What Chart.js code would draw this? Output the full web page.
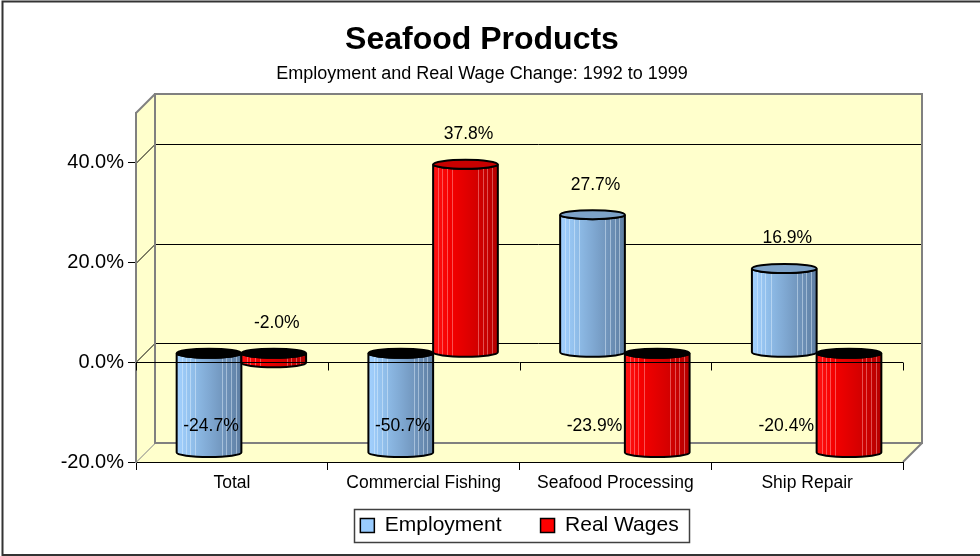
<!DOCTYPE html>
<html>
<head>
<meta charset="utf-8">
<title>Seafood Products</title>
<script src="https://cdn.jsdelivr.net/npm/chart.js@4.4.1/dist/chart.umd.min.js"></script>
<style>
  html, body { margin: 0; padding: 0; background: #fff; }
  #wrap { width: 980px; height: 556px; position: relative; }
</style>
</head>
<body>
<div id="wrap"><canvas id="seafoodChart"></canvas></div>
<script>
'use strict';

const categories = ['Total', 'Commercial Fishing', 'Seafood Processing', 'Ship Repair'];
const employment = [-24.7, -50.7, 27.7, 16.9];
const realWages = [-2.0, 37.8, -23.9, -20.4];
const yTicks = [-20, 0, 20, 40];
const Y_MIN = -20;
const Y_MAX = 50;

const FONT = "'Liberation Sans', Arial, sans-serif";
const DEPTH = 19;              // offset of the back wall (px right / px up)
const WALL_FILL = '#FFFFCC';
const WALL_EDGE = '#808080';

// side gradients + top colour of the cylinders, per series
const CYL_STYLE = [
  { body: ['#A3D1FF', '#90BEEA', '#80A9D3', '#6F93BA', '#5E7EA2'], top: '#7DA2C8', stripe: 'rgba(230,243,255,0.45)' },
  { body: ['#FF1414', '#F60000', '#E20000', '#CE0000', '#B40000'], top: '#C80000', stripe: 'rgba(255,180,180,0.45)' }
];
const STRIPES = [0.08, 0.14, 0.21, 0.29, 0.7, 0.77, 0.84, 0.91];

function polygon(ctx, pts) {
  ctx.beginPath();
  pts.forEach(([x, y], i) => (i ? ctx.lineTo(x, y) : ctx.moveTo(x, y)));
  ctx.closePath();
}

function line(ctx, x1, y1, x2, y2) {
  ctx.beginPath();
  ctx.moveTo(x1, y1);
  ctx.lineTo(x2, y2);
  ctx.stroke();
}

function bodyPath(ctx, cx, yUp, yLow, rx, ry) {
  ctx.beginPath();
  ctx.moveTo(cx - rx, yUp);
  ctx.lineTo(cx - rx, yLow);
  ctx.ellipse(cx, yLow, rx, ry, 0, Math.PI, 0, true);
  ctx.lineTo(cx + rx, yUp);
  ctx.ellipse(cx, yUp, rx, ry, 0, 0, Math.PI, false);
  ctx.closePath();
}

function drawCylinder(ctx, cx, yUp, yLow, w, style, capColor) {
  const rx = w / 2, ry = 4.5, x0 = cx - rx;
  const grad = ctx.createLinearGradient(x0, 0, cx + rx, 0);
  style.body.forEach((c, i) => grad.addColorStop(i / (style.body.length - 1), c));

  bodyPath(ctx, cx, yUp, yLow, rx, ry);
  ctx.fillStyle = grad;
  ctx.fill();

  // faint vertical banding on the side
  ctx.save();
  ctx.clip();
  ctx.strokeStyle = style.stripe;
  ctx.lineWidth = 1;
  STRIPES.forEach(f => {
    const sx = Math.round(x0 + f * w) + 0.5;
    line(ctx, sx, yUp - ry, sx, yLow + ry);
  });
  ctx.restore();

  bodyPath(ctx, cx, yUp, yLow, rx, ry);
  ctx.strokeStyle = '#000';
  ctx.lineWidth = 2;
  ctx.stroke();

  ctx.beginPath();
  ctx.ellipse(cx, yUp, rx, ry, 0, 0, Math.PI * 2);
  ctx.fillStyle = capColor;
  ctx.fill();
  ctx.stroke();
}

const wallsPlugin = {
  id: 'walls',
  beforeDraw(chart) {
    const { ctx, chartArea: a, scales: { y } } = chart;
    ctx.save();
    ctx.fillStyle = '#fff';
    ctx.fillRect(0, 0, chart.width, chart.height);

    ctx.fillStyle = WALL_FILL;
    polygon(ctx, [[a.left, a.top], [a.left + DEPTH, a.top - DEPTH], [a.left + DEPTH, a.bottom - DEPTH], [a.left, a.bottom]]);
    ctx.fill();
    ctx.fillRect(a.left + DEPTH, a.top - DEPTH, a.width, a.height);
    polygon(ctx, [[a.left, a.bottom], [a.left + DEPTH, a.bottom - DEPTH], [a.right + DEPTH, a.bottom - DEPTH], [a.right, a.bottom]]);
    ctx.fill();

    // gridlines run along the side wall and across the back wall
    ctx.lineWidth = 1;
    yTicks.forEach(v => {
      const py = Math.round(y.getPixelForValue(v)) + 0.5;
      ctx.strokeStyle = v === Y_MIN ? WALL_EDGE : '#000';
      ctx.beginPath();
      ctx.moveTo(a.left, py);
      ctx.lineTo(a.left + DEPTH, py - DEPTH);
      ctx.lineTo(a.right + DEPTH, py - DEPTH);
      ctx.stroke();
    });

    ctx.strokeStyle = WALL_EDGE;
    ctx.lineWidth = 2;
    line(ctx, a.left, a.top, a.left + DEPTH, a.top - DEPTH);
    ctx.strokeRect(a.left + DEPTH, a.top - DEPTH, a.width, a.height);
    line(ctx, a.right, a.bottom, a.right + DEPTH, a.bottom - DEPTH);
    ctx.restore();
  },
  beforeDatasetDraw() {
    return false; // bars are painted as cylinders below
  },
  afterDatasetsDraw(chart) {
    const { ctx, chartArea: a, scales: { x, y } } = chart;
    const sx = DEPTH / 2, sy = -DEPTH / 2; // bars stand half way into the box
    const clampY = p => Math.min(Math.max(p, a.top), a.bottom);
    ctx.save();

    categories.forEach((cat, i) => {
      chart.data.datasets.forEach((ds, di) => {
        const bar = chart.getDatasetMeta(di).data[i];
        const pv = clampY(bar.y) + sy, pb = clampY(bar.base) + sy;
        const up = Math.min(pv, pb), low = Math.max(pv, pb);
        const cap = ds.data[i] >= 0 ? CYL_STYLE[di].top : '#000';
        drawCylinder(ctx, bar.x + sx, up, low, bar.width, CYL_STYLE[di], cap);
      });
    });

    // category axis at 0% sits on the front plane
    const y0 = Math.round(y.getPixelForValue(0)) + 0.5;
    ctx.strokeStyle = '#000';
    ctx.lineWidth = 1;
    line(ctx, a.left, y0, a.right, y0);
    for (let i = 0; i <= categories.length; i++) {
      const tx = Math.round(x.getPixelForValue(i - 0.5)) + 0.5;
      line(ctx, tx, y0, tx, y0 + 8);
    }

    // value labels
    ctx.fillStyle = '#000';
    ctx.font = '17.5px ' + FONT;
    ctx.textAlign = 'center';
    ctx.textBaseline = 'middle';
    chart.data.datasets.forEach((ds, di) => {
      const meta = chart.getDatasetMeta(di);
      ds.data.forEach((v, i) => {
        const bar = meta.data[i];
        const pv = clampY(bar.y) + sy, pb = clampY(bar.base) + sy;
        const up = Math.min(pv, pb), low = Math.max(pv, pb);
        let lx, ly;
        if (v >= 0 || low - up < 30) {
          lx = bar.x + sx + 3;
          ly = up - 30;
        } else {
          lx = chart.getDatasetMeta(0).data[i].x + sx + 2;
          ly = low - 26;
        }
        ctx.fillText(v.toFixed(1) + '%', lx, ly);
      });
    });
    ctx.restore();
  },
  afterDraw(chart) {
    const { ctx } = chart;
    ctx.save();
    // frame round the legend
    const hb = chart.legend.legendHitBoxes;
    if (hb && hb.length) {
      const first = hb[0], last = hb[hb.length - 1];
      const cy = first.top + first.height / 2;
      ctx.strokeStyle = '#404040';
      ctx.lineWidth = 1.5;
      ctx.strokeRect(Math.round(first.left - 6) + 0.5, Math.round(cy - 16.5) + 0.5,
        Math.round(last.left + last.width + 11 - (first.left - 6)), 33);
    }
    // outer border
    ctx.strokeStyle = '#333';
    ctx.lineWidth = 2;
    ctx.strokeRect(2.5, 1.5, chart.width + 10, chart.height - 2.5);
    ctx.restore();
  }
};

new Chart(document.getElementById('seafoodChart'), {
  type: 'bar',
  data: {
    labels: categories,
    datasets: [
      {
        label: 'Employment',
        data: employment,
        backgroundColor: '#99CCFF',
        borderColor: '#000',
        borderWidth: 1.5
      },
      {
        label: 'Real Wages',
        data: realWages,
        backgroundColor: '#FF0000',
        borderColor: '#000',
        borderWidth: 1.5
      }
    ]
  },
  options: {
    responsive: true,
    maintainAspectRatio: false,
    devicePixelRatio: 1,
    animation: false,
    events: [],
    categoryPercentage: 0.675,
    barPercentage: 1,
    layout: { padding: { left: 61, right: 77, top: 0, bottom: 10 } },
    scales: {
      x: {
        ticks: { color: '#000', font: { family: FONT, size: 17.5 }, padding: 3, maxRotation: 0, autoSkip: false },
        grid: { drawOnChartArea: false, tickLength: 8, color: '#000', offset: true },
        border: { color: '#000', width: 1 }
      },
      y: {
        min: Y_MIN,
        max: Y_MAX,
        afterBuildTicks: scale => { scale.ticks = yTicks.map(value => ({ value })); },
        afterFit: scale => { scale.width = 75; },
        ticks: {
          color: '#000',
          font: { family: FONT, size: 20 },
          padding: 4,
          callback: v => v.toFixed(1) + '%'
        },
        grid: { drawOnChartArea: false, tickLength: 8, color: '#000' },
        border: { color: WALL_EDGE, width: 2 }
      }
    },
    plugins: {
      title: {
        display: true,
        text: 'Seafood Products',
        color: '#000',
        font: { family: FONT, size: 32, weight: 'bold' },
        padding: { top: 21, bottom: 4 }
      },
      subtitle: {
        display: true,
        text: 'Employment and Real Wage Change: 1992 to 1999',
        color: '#000',
        font: { family: FONT, size: 18 },
        padding: { top: 0, bottom: 28 }
      },
      legend: {
        position: 'bottom',
        fullSize: false,
        labels: {
          color: '#000',
          font: { family: FONT, size: 21 },
          boxWidth: 14,
          boxHeight: 14,
          padding: 18,
          // extra room after every entry but the last
          generateLabels(chart) {
            const items = Chart.defaults.plugins.legend.labels.generateLabels(chart);
            return items.map((it, i) => (i < items.length - 1 ? { ...it, text: it.text + '\u2003' } : it));
          }
        }
      },
      tooltip: { enabled: false }
    }
  },
  plugins: [wallsPlugin]
});
</script>
</body>
</html>
